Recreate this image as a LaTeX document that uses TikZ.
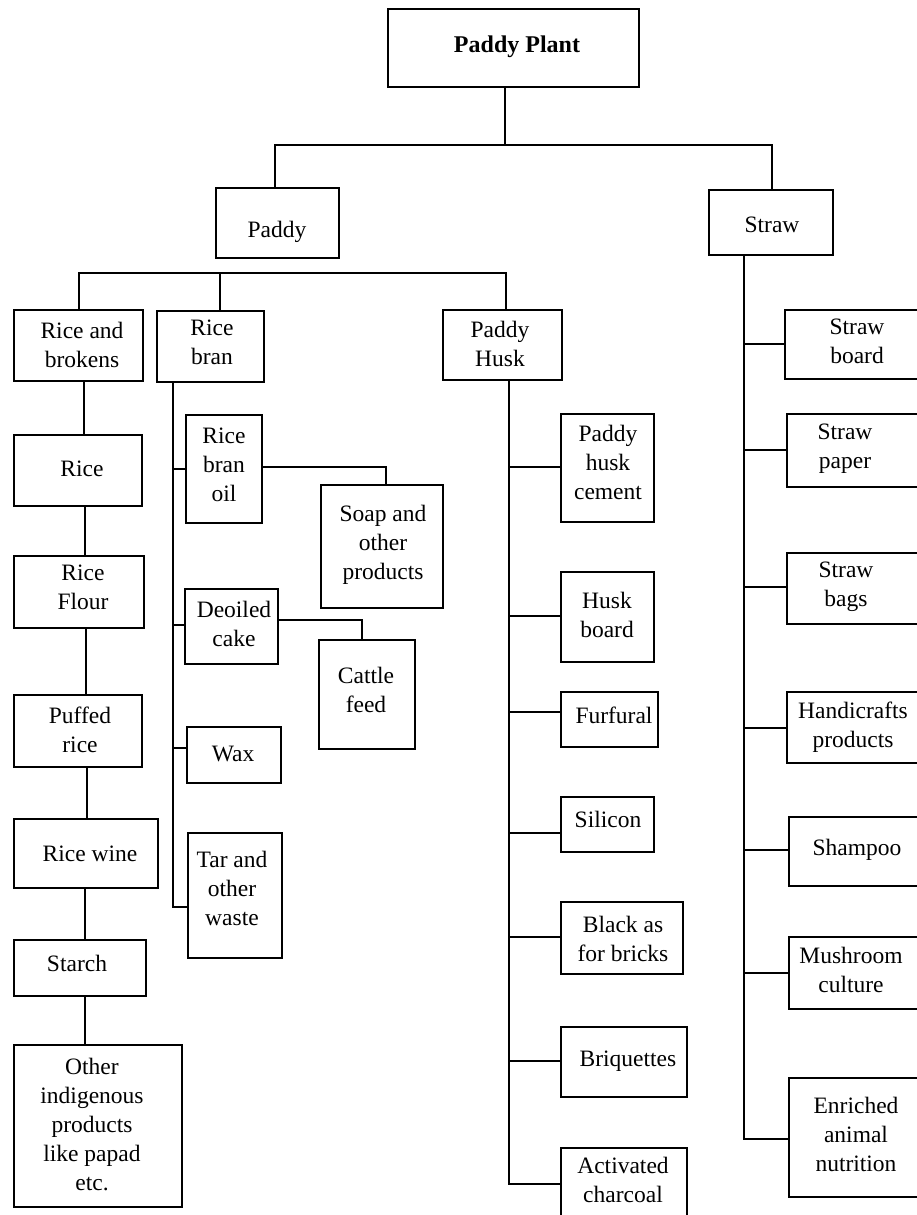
\documentclass[tikz,border=0pt]{standalone}
\usepackage{fontspec}
\setmainfont{Liberation Serif}
\begin{document}
\begin{tikzpicture}[x=1pt,y=-1pt,
  bx/.style={draw,rectangle,line width=2.6pt,inner sep=0pt,outer sep=0pt},
  tx/.style={inner sep=0pt,outer sep=0pt,align=center,anchor=north,
    font=\fontsize{23.5}{28.9}\selectfont},
  ln/.style={line width=2.6pt}]
% box: name, left, top, right, bottom
\newcommand\pbox[5]{\node[bx,minimum width={#4-#2},minimum height={#5-#3}]
  (#1) at ({(#2+#4)/2},{(#3+#5)/2}) {};}
% label: name, centre x, first baseline, text
\newcommand\plab[4]{\node[tx] (#1) at (#2,{#3-15.8}) {#4};}
% stub from a spine to the left side of a box
\newcommand\pstub[4]{\coordinate (#1) at (#2,#3); \draw[ln] (#1) -- (#1 -| #4.west);}

\useasboundingbox (0,0) rectangle (917,1215);
\clip (0,0) rectangle (917,1215);

% boxes
\pbox{pp}{388}{9}{639}{87}
\pbox{paddy}{216}{188}{339}{258}
\pbox{straw}{709}{190}{833}{255}
\pbox{rab}{14}{310}{143}{381}
\pbox{rb}{157}{311}{264}{382}
\pbox{ph}{443}{310}{562}{380}
\pbox{sb}{785}{310}{930}{379}
\pbox{rice}{14}{435}{142}{506}
\pbox{rf}{14}{556}{144}{628}
\pbox{pr}{14}{695}{142}{767}
\pbox{rw}{14}{819}{158}{888}
\pbox{st}{14}{940}{146}{996}
\pbox{oth}{14}{1045}{182}{1207}
\pbox{rbo}{186}{415}{262}{523}
\pbox{soap}{321}{485}{443}{608}
\pbox{doc}{185}{589}{278}{664}
\pbox{cf}{319}{640}{415}{749}
\pbox{wax}{187}{727}{281}{783}
\pbox{tar}{188}{833}{282}{958}
\pbox{phc}{561}{414}{654}{522}
\pbox{hb}{561}{572}{654}{662}
\pbox{fur}{561}{692}{658}{747}
\pbox{sil}{561}{797}{654}{852}
\pbox{bl}{561}{902}{683}{974}
\pbox{bq}{561}{1027}{687}{1097}
\pbox{ac}{561}{1148}{687}{1240}
\pbox{sp}{787}{414}{930}{487}
\pbox{sbg}{787}{553}{930}{624}
\pbox{hc}{787}{692}{930}{763}
\pbox{sh}{789}{817}{930}{886}
\pbox{mc}{789}{937}{930}{1009}
\pbox{en}{789}{1078}{930}{1197}

% labels
\node[tx,font=\fontsize{24}{29}\selectfont\bfseries] (pp-t) at (517,{52-16.2}) {Paddy Plant};
\plab{paddy-t}{277}{237}{Paddy}
\plab{straw-t}{772}{233}{Straw}
\plab{rab-t}{82}{338}{Rice and\\brokens}
\plab{rb-t}{212}{336}{Rice\\bran}
\plab{ph-t}{500}{337}{Paddy\\Husk}
\plab{sb-t}{857}{335}{Straw\\board}
\plab{rice-t}{82}{477}{Rice}
\plab{rf-t}{83}{581}{Rice\\Flour}
\plab{pr-t}{80}{723}{Puffed\\rice}
\plab{rw-t}{90}{862}{Rice wine}
\plab{st-t}{77}{971}{Starch}
\plab{oth-t}{92}{1074}{Other\\indigenous\\products\\like papad\\etc.}
\plab{rbo-t}{224}{444}{Rice\\bran\\oil}
\plab{soap-t}{383}{521}{Soap and\\other\\products}
\plab{doc-t}{234}{617}{Deoiled\\cake}
\plab{cf-t}{366}{683}{Cattle\\feed}
\plab{wax-t}{233}{762}{Wax}
\plab{tar-t}{232}{867}{Tar and\\other\\waste}
\plab{phc-t}{608}{441}{Paddy\\husk\\cement}
\plab{hb-t}{607}{608}{Husk\\board}
\plab{fur-t}{614}{723}{Furfural}
\plab{sil-t}{608}{827}{Silicon}
\plab{bl-t}{623}{932}{Black as\\for bricks}
\plab{bq-t}{628}{1067}{Briquettes}
\plab{ac-t}{623}{1173}{Activated\\charcoal}
\plab{sp-t}{845}{440}{Straw\\paper}
\plab{sbg-t}{846}{578}{Straw\\bags}
\plab{hc-t}{853}{718}{Handicrafts\\products}
\plab{sh-t}{857}{855}{Shampoo}
\plab{mc-t}{851}{963}{Mushroom\\culture}
\plab{en-t}{856}{1113}{Enriched\\animal\\nutrition}

% top level: plant to paddy and straw
\coordinate (t0) at (505,145);
\coordinate (tl) at (275,145);
\coordinate (tr) at (772,145);
\draw[ln] (pp.south -| t0) -- (t0);
\draw[ln] (tl |- paddy.north) -- (tl) -- (tr) -- (tr |- straw.north);

% paddy bar
\coordinate (pl) at (79,273);
\coordinate (pm) at (220,273);
\coordinate (pq) at (506,273);
\draw[ln] (pl |- rab.north) -- (pl) -- (pq) -- (pq |- ph.north);
\draw[ln] (pm) -- (pm |- rb.north);

% rice chain
\coordinate (c1) at (84,0);
\coordinate (c2) at (85,0);
\coordinate (c3) at (86,0);
\coordinate (c4) at (87,0);
\coordinate (c5) at (85,0);
\coordinate (c6) at (85,0);
\draw[ln] (rab.south -| c1) -- (rice.north -| c1);
\draw[ln] (rice.south -| c2) -- (rf.north -| c2);
\draw[ln] (rf.south -| c3) -- (pr.north -| c3);
\draw[ln] (pr.south -| c4) -- (rw.north -| c4);
\draw[ln] (rw.south -| c5) -- (st.north -| c5);
\draw[ln] (st.south -| c6) -- (oth.north -| c6);

% rice bran spine
\coordinate (bt) at (173,907);
\draw[ln] (rb.south -| bt) -- (bt) -- (bt -| tar.west);
\pstub{b1}{173}{469}{rbo}
\pstub{b2}{173}{625}{doc}
\pstub{b3}{173}{748}{wax}
\coordinate (o1) at (386,467);
\draw[ln] (o1 -| rbo.east) -- (o1) -- (o1 |- soap.north);
\coordinate (o2) at (362,620);
\draw[ln] (o2 -| doc.east) -- (o2) -- (o2 |- cf.north);

% paddy husk spine
\coordinate (ht) at (509,1184);
\draw[ln] (ph.south -| ht) -- (ht) -- (ht -| ac.west);
\pstub{h1}{509}{467}{phc}
\pstub{h2}{509}{616}{hb}
\pstub{h3}{509}{712}{fur}
\pstub{h4}{509}{833}{sil}
\pstub{h5}{509}{937}{bl}
\pstub{h6}{509}{1061}{bq}

% straw spine
\coordinate (s0) at (744,1139);
\draw[ln] (straw.south -| s0) -- (s0) -- (s0 -| en.west);
\pstub{s1}{744}{344}{sb}
\pstub{s2}{744}{450}{sp}
\pstub{s3}{744}{587}{sbg}
\pstub{s4}{744}{728}{hc}
\pstub{s5}{744}{850}{sh}
\pstub{s6}{744}{973}{mc}
\end{tikzpicture}
\end{document}
